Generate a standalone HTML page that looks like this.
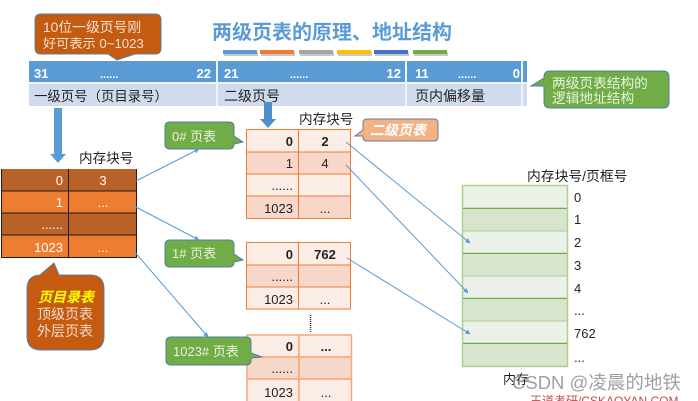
<!DOCTYPE html>
<html><head><meta charset="utf-8"><style>
html,body{margin:0;padding:0;background:#fff}
svg{display:block}
text{font-family:"Liberation Sans","Noto Sans CJK SC",sans-serif;font-size:13px;fill:#222}
.w{fill:#fff}
.b{font-weight:bold}
.e{text-anchor:end}
.m{text-anchor:middle}
</style></head><body>
<svg width="698" height="401" viewBox="0 0 698 401" xmlns="http://www.w3.org/2000/svg">
<rect width="698" height="401" fill="#fff"/>
<!-- title -->
<text x="212" y="39" class="b" style="font-size:20px;fill:#5B9BD5">两级页表的原理、地址结构</text>
<g fill="#c8c8c8">
<rect x="224" y="52" width="34" height="4"/>
<rect x="261" y="52" width="34" height="4"/>
<rect x="300" y="52" width="34" height="4"/>
<rect x="338" y="52" width="34" height="4"/>
<rect x="375" y="52" width="34" height="4"/>
<rect x="414" y="52" width="34" height="4"/>
</g>
<g>
<rect x="223" y="50" width="34" height="4" fill="#5B9BD5"/>
<rect x="260" y="50" width="34" height="4" fill="#ED7D31"/>
<rect x="299" y="50" width="34" height="4" fill="#A5A5A5"/>
<rect x="337" y="50" width="34" height="4" fill="#FFC000"/>
<rect x="374" y="50" width="34" height="4" fill="#4472C4"/>
<rect x="413" y="50" width="34" height="4" fill="#70AD47"/>
</g>
<!-- address bar -->
<rect x="29" y="61" width="498" height="21" fill="#5B9BD5"/>
<rect x="29" y="84" width="498" height="22" fill="#D0DCEE"/>
<g fill="#eef3f9">
<rect x="216" y="61" width="2" height="45"/>
<rect x="405" y="61" width="2" height="45"/>
<rect x="521" y="61" width="2" height="45"/>
<rect x="29" y="82" width="498" height="2"/>
</g>
<text x="34" y="78" class="w b">31</text>
<text x="100" y="78" class="w b" style="font-size:11px">......</text>
<text x="211" y="78" class="w b e">22</text>
<text x="224" y="78" class="w b">21</text>
<text x="290" y="78" class="w b" style="font-size:11px">......</text>
<text x="401" y="78" class="w b e">12</text>
<text x="415" y="78" class="w b">11</text>
<text x="458" y="78" class="w b" style="font-size:11px">......</text>
<text x="520" y="78" class="w b e">0</text>
<text x="34" y="101" style="font-size:13.4px">一级页号（页目录号）</text>
<text x="224" y="101" style="font-size:14px">二级页号</text>
<text x="415" y="101" style="font-size:14px">页内偏移量</text>
<!-- top callout -->
<path d="M41 14H155Q161 14 161 20V48Q161 54 155 54H135L117 60L108 54H41Q35 54 35 48V20Q35 14 41 14Z" fill="#C55A11" stroke="#5f7f9f" stroke-width="1"/>
<text x="43" y="32" style="font-size:13.8px;fill:#f4e3d0">10位一级页号刚</text>
<text x="43" y="48" style="font-size:13.2px;fill:#f4e3d0">好可表示 0~1023</text>
<!-- right callout -->
<path d="M550 71H663Q669 71 669 77V102Q669 108 663 108H550Q544 108 544 102V86H531L544 78V77Q544 71 550 71Z" fill="#70AD47" stroke="#4f7f9f" stroke-width="1"/>
<text x="552" y="88" style="font-size:13.7px;fill:#e8f2dd">两级页表结构的</text>
<text x="552" y="103" style="font-size:13.7px;fill:#e8f2dd">逻辑地址结构</text>
<!-- down arrows -->
<path d="M54 108H62V154H66L58 163L50 154H54Z" fill="#5B9BD5"/>
<path d="M264 102H272V119H276L268 128L260 119H264Z" fill="#4f8fcc"/>
<!-- left table -->
<text x="79" y="163" style="font-size:13.6px">内存块号</text>
<rect x="1" y="169" width="136" height="22" fill="#B8622A"/>
<rect x="1" y="191" width="136" height="22" fill="#ED7D31"/>
<rect x="1" y="213" width="136" height="22" fill="#B8622A"/>
<rect x="1" y="235" width="136" height="23" fill="#ED7D31"/>
<path d="M1.500 169V258M68.500 169V258M136.500 169V258M1 191H137M1 213H137M1 235H137M1 257.500H137" stroke="#2a1a10" stroke-width="1" fill="none"/>
<text x="63" y="185" class="w e">0</text><text x="103" y="185" class="w m">3</text>
<text x="63" y="207" class="w e">1</text><text x="103" y="207" class="w m">...</text>
<text x="63" y="229" class="w e">......</text>
<text x="63" y="252" class="w e">1023</text><text x="103" y="252" class="w m">...</text>
<!-- bottom-left callout -->
<path d="M40 275L54 263L59 275H90Q104 275 104 289V336Q104 350 90 350H41Q27 350 27 336V289Q27 275 41 275Z" fill="#C55A11" stroke="#5f7f9f" stroke-width="1"/>
<text x="38" y="302" class="b" style="font-size:14px;fill:#FFFF00;font-style:italic">页目录表</text>
<text x="37" y="319" style="font-size:14px;fill:#f2dcc8">顶级页表</text>
<text x="37" y="336" style="font-size:14px;fill:#f2dcc8">外层页表</text>
<!-- green callouts -->
<path d="M170 122H229Q234 122 234 127V136L243 142L234 144V144Q234 149 229 149H170Q165 149 165 144V127Q165 122 170 122Z" fill="#70AD47" stroke="#4f7f9f"/>
<text x="172" y="141" style="font-size:13px;fill:#e8f2dd">0# 页表</text>
<path d="M170 240H229Q234 240 234 245V254L243 260L234 262V262Q234 267 229 267H170Q165 267 165 262V245Q165 240 170 240Z" fill="#70AD47" stroke="#4f7f9f"/>
<text x="172" y="258" style="font-size:13px;fill:#e8f2dd">1# 页表</text>
<!-- second-level table 0 -->
<text x="299" y="124" style="font-size:13.6px">内存块号</text>
<g stroke="#ED7D31" stroke-width="1">
<rect x="246.500" y="129.500" width="52" height="22.500" fill="#FBECE6"/>
<rect x="298.500" y="129.500" width="52" height="22.500" fill="#FBECE6"/>
<rect x="246.500" y="152" width="52" height="22" fill="#F8D7CB"/>
<rect x="298.500" y="152" width="52" height="22" fill="#F8D7CB"/>
<rect x="246.500" y="174" width="52" height="22" fill="#FBECE6"/>
<rect x="298.500" y="174" width="52" height="22" fill="#FBECE6"/>
<rect x="246.500" y="196" width="52" height="22.500" fill="#F8D7CB"/>
<rect x="298.500" y="196" width="52" height="22.500" fill="#F8D7CB"/>
</g>
<text x="293" y="146" class="b e">0</text><text x="325" y="146" class="b m">2</text>
<text x="293" y="168" class="e">1</text><text x="325" y="168" class="m">4</text>
<text x="293" y="190" class="e">......</text>
<text x="293" y="213" class="e">1023</text><text x="325" y="213" class="m">...</text>
<!-- second-level callout -->
<path d="M367 119H434Q438 119 438 123V137Q438 141 434 141H367Q363 141 363 137V136L355 136L363 130V123Q363 119 367 119Z" fill="#F4B183" stroke="#5f7f9f"/>
<text x="370" y="135" class="b" style="font-size:14px;fill:#fff;font-style:italic">二级页表</text>
<!-- table 1 -->
<g stroke="#ED7D31" stroke-width="1">
<rect x="246.500" y="242.500" width="52" height="22.500" fill="#FBECE6"/>
<rect x="298.500" y="242.500" width="52" height="22.500" fill="#FBECE6"/>
<rect x="246.500" y="265" width="52" height="22" fill="#F8D7CB"/>
<rect x="298.500" y="265" width="52" height="22" fill="#F8D7CB"/>
<rect x="246.500" y="287" width="52" height="22" fill="#FBECE6"/>
<rect x="298.500" y="287" width="52" height="22" fill="#FBECE6"/>
</g>
<text x="293" y="259" class="b e">0</text><text x="325" y="259" class="b m">762</text>
<text x="293" y="281" class="e">......</text>
<text x="293" y="304" class="e">1023</text><text x="325" y="304" class="m">...</text>
<!-- dots -->
<path d="M310.500 315V332" stroke="#333" stroke-width="1.500" stroke-dasharray="1 1"/>
<!-- table 2 -->
<g stroke="#F4A878" stroke-width="1.500">
<rect x="247" y="335" width="52" height="22" fill="#FBECE6"/>
<rect x="299" y="335" width="52.500" height="22" fill="#FBECE6"/>
<rect x="247" y="357" width="52" height="22" fill="#F8D7CB"/>
<rect x="299" y="357" width="52.500" height="22" fill="#F8D7CB"/>
<rect x="247" y="379" width="52" height="24" fill="#FBECE6"/>
<rect x="299" y="379" width="52.500" height="24" fill="#FBECE6"/>
</g>
<text x="293" y="351" class="b e">0</text><text x="326" y="351" class="b m">...</text>
<text x="293" y="373" class="e">......</text>
<text x="293" y="397" class="e">1023</text><text x="326" y="397" class="m">...</text>
<!-- 1023 callout -->
<path d="M171 337H246Q251 337 251 342V353L262 357L251 358V360Q251 365 246 365H171Q166 365 166 360V342Q166 337 171 337Z" fill="#70AD47" stroke="#4f7f9f"/>
<text x="173" y="356" style="font-size:13px;fill:#e8f2dd">1023# 页表</text>
<!-- memory -->
<text x="527" y="181" style="font-size:13.8px">内存块号/页框号</text>
<g stroke="#A9D18E" stroke-width="1">
<rect x="462.500" y="185.500" width="105" height="22.500" fill="#EBF0E8"/>
<rect x="462.500" y="208" width="105" height="23" fill="#D9E4CF"/>
<rect x="462.500" y="231" width="105" height="22" fill="#EBF0E8"/>
<rect x="462.500" y="253" width="105" height="23" fill="#D9E4CF"/>
<rect x="462.500" y="276" width="105" height="22" fill="#EBF0E8"/>
<rect x="462.500" y="298" width="105" height="23" fill="#D9E4CF"/>
<rect x="462.500" y="321" width="105" height="22" fill="#EBF0E8"/>
<rect x="462.500" y="343" width="105" height="23.500" fill="#D9E4CF"/>
</g>
<path d="M462.500 185.500H567.500V366.500H462.500Z" fill="none" stroke="#A9D18E" stroke-width="1.500"/>
<path d="M463 208.500H567M463 253.500H567M463 298.500H567M463 343.500H567" stroke="#70AD47" stroke-width="1" fill="none"/>
<text x="574" y="202">0</text>
<text x="574" y="224">1</text>
<text x="574" y="247">2</text>
<text x="574" y="270">3</text>
<text x="574" y="293">4</text>
<text x="574" y="315">...</text>
<text x="574" y="338">762</text>
<text x="574" y="362">...</text>
<text x="503" y="384" style="font-size:13px">内存</text>
<!-- connectors -->
<defs><marker id="a" markerUnits="userSpaceOnUse" markerWidth="5" markerHeight="5" refX="4.500" refY="2.500" orient="auto"><path d="M0 0L5 2.500L0 5Z" fill="#5B9BD5"/></marker></defs>
<g stroke="#5B9BD5" stroke-width="1" fill="none">
<path d="M136 181L199 149" marker-end="url(#a)"/>
<path d="M132 205L199 240" marker-end="url(#a)"/>
<path d="M133 250L208 337" marker-end="url(#a)"/>
<path d="M346 142L470 243" marker-end="url(#a)"/>
<path d="M346 165L468 293" marker-end="url(#a)"/>
<path d="M347 258L470 334" marker-end="url(#a)"/>
</g>
<!-- watermark -->
<text x="512" y="389" style="font-size:18.500px;fill:#8f8f8f;opacity:.85">CSDN @凌晨的地铁</text>
<text x="530" y="405" style="font-size:12px;fill:#C0504D">王道考研/CSKAOYAN.COM</text>
</svg>
</body></html>
